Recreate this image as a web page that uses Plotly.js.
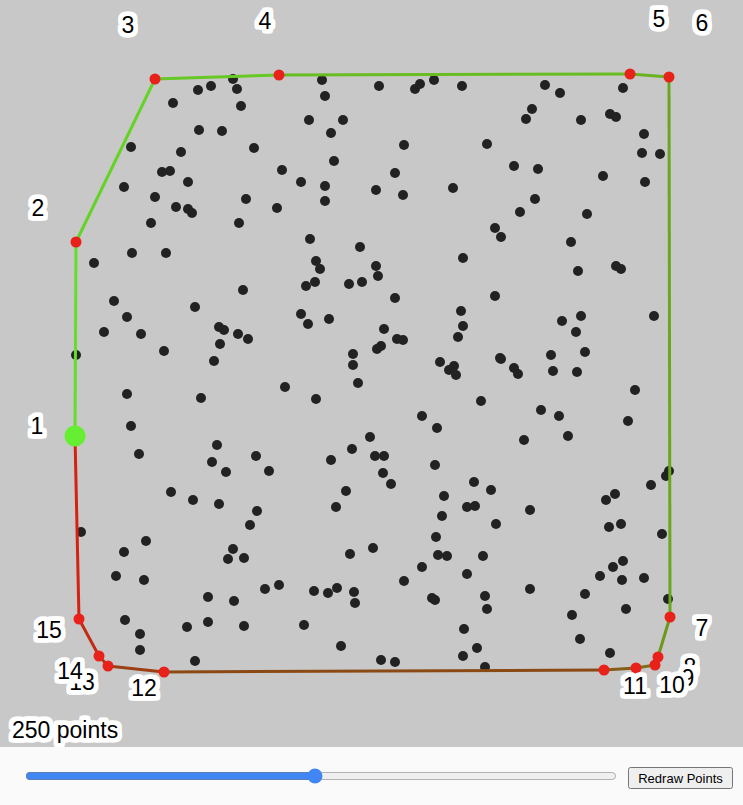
<!DOCTYPE html>
<html>
<head>
<meta charset="utf-8">
<script src="https://cdn.plot.ly/plotly-3.0.1.min.js"></script>
<style>
  body { margin: 0; font-family: "Liberation Sans", Arial, sans-serif; background: #fafafa; }
  #chart { width: 743px; height: 747px; }
  #chart svg text {
    paint-order: stroke fill; stroke: #ffffff; stroke-width: 5px; stroke-linejoin: round;
  }
  #controls { position: relative; height: 58px; background: #fafafa; }
  #count { position: absolute; left: 25px; top: 21px; width: 592px; margin: 0; accent-color: #4285f4; }
  #redraw { position: absolute; left: 628px; top: 20px; width: 105px; height: 22px; font-family: Arial, "Liberation Sans", sans-serif; font-size: 13px; padding: 0; }
</style>
</head>
<body>
<div id="chart"></div>
<div id="controls">
  <input type="range" id="count" min="10" max="500" value="250">
  <button id="redraw">Redraw Points</button>
</div>
<script>
// points inside the hull (pixel coords, y down)
var pointsX = [198,211,233,237,173,241,199,222,131,181,254,162,170,188,124,155,246,176,188,192,151,239,132,166,94,
  322,325,379,415,420,434,462,309,343,331,404,487,334,282,301,325,395,376,403,453,277,325,310,360,316,463,495,501,
  545,560,623,532,526,581,610,616,644,642,660,514,538,603,645,535,520,587,571,
  243,114,195,127,104,141,219,224,238,248,220,76,164,214,127,201,131,217,139,212,226,256,171,193,
  320,376,378,306,315,349,362,395,495,301,308,329,461,384,463,458,397,403,381,377,353,353,440,454,449,456,500,358,285,316,481,422,437,370,352,375,384,331,435,269,383,391,474,491,346,444,
  578,616,621,562,581,576,654,501,551,585,514,518,553,577,635,541,559,628,524,568,669,666,651,615,606,
  219,257,250,81,146,124,233,228,244,116,144,208,234,125,140,187,208,244,140,195,
  336,467,475,442,496,436,350,373,438,447,483,422,467,404,265,279,314,328,337,354,355,432,435,485,487,304,464,341,477,463,381,395,485,
  530,609,621,662,623,613,600,622,644,530,585,668,572,626,580,610];
var pointsY = [90,86,79,89,103,106,130,131,147,152,148,172,171,182,187,197,199,207,209,213,223,223,253,253,263,
  80,96,86,89,84,80,86,120,120,133,145,144,161,170,182,186,173,190,195,188,208,201,239,247,261,258,228,237,
  85,93,88,109,119,120,114,117,134,153,154,166,169,176,182,199,212,214,242,
  290,301,307,317,332,334,327,330,334,339,344,355,351,361,394,398,426,445,454,462,472,456,492,500,
  269,266,276,286,282,284,282,298,296,314,324,319,311,329,326,337,339,340,346,349,354,365,362,366,370,375,358,383,387,399,401,416,428,437,449,456,456,460,465,471,473,484,482,490,491,496,
  271,266,269,321,316,332,316,359,355,352,368,374,371,372,390,410,416,421,440,436,471,476,485,494,500,
  504,511,525,532,541,552,549,559,558,576,580,597,601,620,634,627,622,626,650,661,
  507,507,506,516,524,537,554,548,555,556,556,567,574,581,589,585,591,593,588,592,603,598,600,596,609,625,629,646,648,656,660,662,667,
  510,527,524,534,561,567,576,580,578,589,594,599,615,609,639,653];

// hull vertices in drawing order
var hullX = [75,76,155,279,630,669,670,658,655,636,604,164,108,99,79];
var hullY = [436,242,79,75,74,77,617,657,665,668,670,672,666,656,619];
var hullLabels = ["1","2","3","4","5","6","7","8","9","10","11","12","13","14","15"];
var labelX = [37,38,128,265,659,702,702,690,688,672,635,144,82,70,49];
var labelY = [428,210,27,23,21,25,630,669,680,687,688,690,684,673,632];
var pointCount = 250;

var halo = "2px 0 0 #fff, -2px 0 0 #fff, 0 2px 0 #fff, 0 -2px 0 #fff, 2px 2px 0 #fff, -2px -2px 0 #fff, 2px -2px 0 #fff, -2px 2px 0 #fff";

// green at the start of the hull, red at the end
var stops = [[0, [100, 222, 40]], [0.38, [106, 164, 30]], [0.72, [140, 72, 20]], [1, [212, 34, 18]]];
function edgeColor(t) {
  for (var i = 1; i < stops.length; i++) {
    if (t <= stops[i][0]) {
      var a = stops[i - 1], b = stops[i];
      var f = (t - a[0]) / (b[0] - a[0]);
      var c = a[1].map(function (v, k) { return Math.round(v + (b[1][k] - v) * f); });
      return "rgb(" + c.join(",") + ")";
    }
  }
  return "rgb(212,34,18)";
}

var data = [];

data.push({
  x: pointsX, y: pointsY,
  type: "scatter", mode: "markers",
  marker: { color: "#222222", size: 10 },
  hoverinfo: "skip"
});

var n = hullX.length;
for (var i = 0; i < n; i++) {
  var j = (i + 1) % n;
  data.push({
    x: [hullX[i], hullX[j]], y: [hullY[i], hullY[j]],
    type: "scatter", mode: "lines",
    line: { color: edgeColor(i / (n - 1)), width: 3 },
    hoverinfo: "skip"
  });
}

data.push({
  x: hullX.slice(1), y: hullY.slice(1),
  type: "scatter", mode: "markers",
  marker: { color: "#e8221a", size: 11 },
  hoverinfo: "skip"
});

data.push({
  x: [hullX[0]], y: [hullY[0]],
  type: "scatter", mode: "markers",
  marker: { color: "#66ee33", size: 21 },
  hoverinfo: "skip"
});

data.push({
  x: labelX, y: labelY, text: hullLabels,
  type: "scatter", mode: "text",
  textposition: "middle center",
  textfont: { family: "Liberation Sans, Arial", size: 23, color: "#000", shadow: halo },
  hoverinfo: "skip"
});

var layout = {
  width: 743, height: 747,
  showlegend: false,
  plot_bgcolor: "#c8c8c8",
  paper_bgcolor: "#c8c8c8",
  margin: { l: 0, r: 0, t: 0, b: 0 },
  xaxis: { range: [0, 743], visible: false, fixedrange: true },
  yaxis: { range: [747, 0], visible: false, fixedrange: true },
  annotations: [{
    x: 10, y: 730, xref: "x", yref: "y",
    xanchor: "left", yanchor: "middle",
    text: pointCount + " points",
    showarrow: false,
    font: { family: "Liberation Sans, Arial", size: 23, color: "#000", shadow: halo }
  }]
};

Plotly.newPlot("chart", data, layout, { displayModeBar: false, staticPlot: true });
</script>
</body>
</html>
